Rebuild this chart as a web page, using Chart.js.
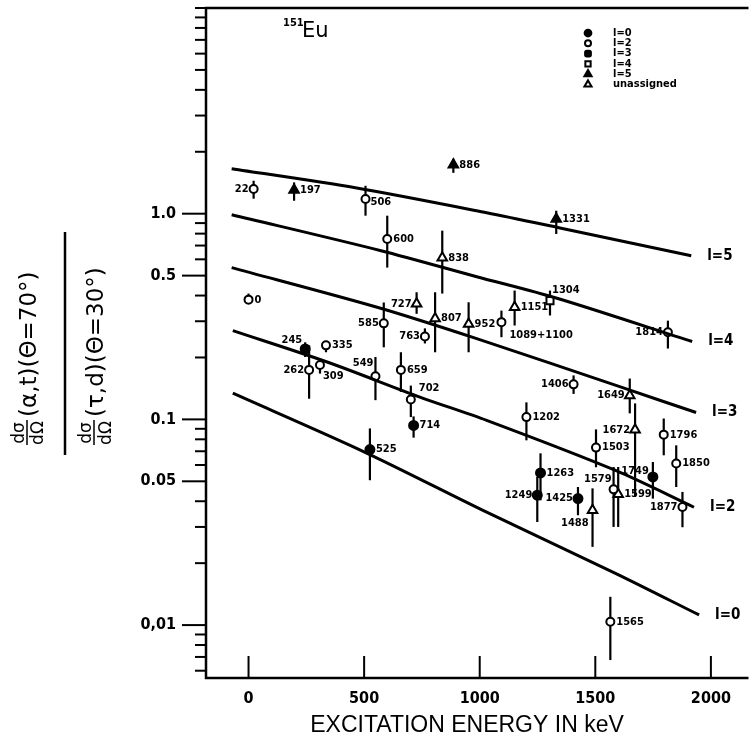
<!DOCTYPE html>
<html>
<head>
<meta charset="utf-8">
<script src="https://cdn.jsdelivr.net/npm/chart.js@4.4.0/dist/chart.umd.min.js"></script>
<style>
  html, body { margin: 0; padding: 0; background: #fff; }
</style>
</head>
<body>
<canvas id="c" width="754" height="743"></canvas>
<script>
// x: excitation energy (keV), y: cross-section ratio
const xTicks = [0, 500, 1000, 1500, 2000];
const yLabelTicks = [0.01, 0.05, 0.1, 0.5, 1.0];
const yTickText = { 1: '1.0', 0.5: '0.5', 0.1: '0.1', 0.05: '0.05', 0.01: '0,01' };

// theoretical curves, one per transferred l
const curveL5 = [[-73, 1.654], [462, 1.337], [1030, 1.011], [1342, 0.855], [1915, 0.625]];
const curveL4 = [[-73, 0.989], [573, 0.661], [987, 0.494], [1338, 0.387], [1919, 0.239]];
const curveL3 = [[-73, 0.547], [560, 0.350], [987, 0.247], [1615, 0.143], [1936, 0.108]];
const curveL2 = [[-68, 0.270], [346, 0.189], [744, 0.128], [1030, 0.0989], [1585, 0.0566], [1927, 0.0374]];
const curveL0 = [[-68, 0.134], [504, 0.0692], [1030, 0.0354], [1585, 0.0179], [1949, 0.0112]];

// measured levels: energy, ratio, error bar low / high
const l0Levels = [
  { e: 245, y: 0.220, lo: 0.201, hi: 0.237 },
  { e: 525, y: 0.0713, lo: 0.0506, hi: 0.0904 },
  { e: 714, y: 0.0935, lo: 0.0815, hi: 0.1034 },
  { e: 1249, y: 0.0428, lo: 0.0317, hi: 0.0525 },
  { e: 1263, y: 0.0549, lo: 0.0404, hi: 0.0684 },
  { e: 1425, y: 0.0412, lo: 0.0342, hi: 0.0469 },
  { e: 1749, y: 0.0525, lo: 0.0412, hi: 0.0621 }
];
const l2Levels = [
  { e: 0, y: 0.382, lo: 0.366, hi: 0.409 },
  { e: 22, y: 1.318, lo: 1.183, hi: 1.446 },
  { e: 262, y: 0.174, lo: 0.126, hi: 0.229 },
  { e: 309, y: 0.184, lo: 0.167, hi: 0.193 },
  { e: 335, y: 0.229, lo: 0.212, hi: 0.237 },
  { e: 506, y: 1.179, lo: 0.978, hi: 1.367 },
  { e: 549, y: 0.162, lo: 0.124, hi: 0.201 },
  { e: 585, y: 0.293, lo: 0.224, hi: 0.370 },
  { e: 600, y: 0.754, lo: 0.547, hi: 0.978 },
  { e: 659, y: 0.174, lo: 0.136, hi: 0.212 },
  { e: 702, y: 0.125, lo: 0.1026, hi: 0.146 },
  { e: 763, y: 0.253, lo: 0.234, hi: 0.277 },
  { e: 1094, y: 0.297, lo: 0.251, hi: 0.338, label: '1089+1100' },
  { e: 1202, y: 0.1026, lo: 0.0791, hi: 0.121 },
  { e: 1406, y: 0.148, lo: 0.133, hi: 0.1636 },
  { e: 1503, y: 0.0729, lo: 0.0585, hi: 0.0894 },
  { e: 1565, y: 0.01038, lo: 0.00676, hi: 0.01372 },
  { e: 1579, y: 0.0457, lo: 0.030, hi: 0.0587 },
  { e: 1796, y: 0.0843, lo: 0.0669, hi: 0.101 },
  { e: 1814, y: 0.265, lo: 0.221, hi: 0.302 },
  { e: 1850, y: 0.0610, lo: 0.0469, hi: 0.0748 },
  { e: 1877, y: 0.0375, lo: 0.0299, hi: 0.0444 }
];
const l3Levels = [];
const l4Levels = [
  { e: 1304, y: 0.378, lo: 0.320, hi: 0.423 }
];
const l5Levels = [
  { e: 197, y: 1.303, lo: 1.156, hi: 1.419 },
  { e: 886, y: 1.729, lo: 1.58, hi: 1.849 },
  { e: 1331, y: 0.942, lo: 0.797, hi: 1.034 }
];
const unassignedLevels = [
  { e: 727, y: 0.365, lo: 0.326, hi: 0.415 },
  { e: 807, y: 0.309, lo: 0.212, hi: 0.415 },
  { e: 838, y: 0.610, lo: 0.409, hi: 0.827 },
  { e: 952, y: 0.291, lo: 0.212, hi: 0.371 },
  { e: 1151, y: 0.351, lo: 0.286, hi: 0.423 },
  { e: 1488, y: 0.0362, lo: 0.024, hi: 0.0462 },
  { e: 1599, y: 0.0432, lo: 0.030, hi: 0.0587 },
  { e: 1649, y: 0.1307, lo: 0.107, hi: 0.158 },
  { e: 1672, y: 0.0891, lo: 0.042, hi: 0.1196 }
];

// where each level label sits next to its marker: [dx, dy, align]
const labelPlace = {
  '22': [-5, 0, 'right'], '262': [-5, 0, 'right'], '585': [-5, 0, 'right'],
  '727': [-5, 0, 'right'], '763': [-5, 0, 'right'], '1814': [-5, 0, 'right'],
  '1406': [-5, 0, 'right'], '1649': [-5, 0, 'right'], '1672': [-5, 0, 'right'],
  '1249': [-5, 0, 'right'], '1425': [-5, 0, 'right'], '1877': [-5, 0, 'right'],
  '245': [-3, -9, 'right'], '549': [-2, -13, 'right'], '1579': [-2, -10, 'right'],
  '1749': [-4, -6, 'right'], '1488': [-4, 13, 'right'],
  '702': [8, -11, 'left'], '1304': [2, -10, 'left'], '309': [3, 11, 'left'],
  '1089+1100': [8, 13, 'left'], '506': [5, 3, 'left']
};

const groups = [
  { name: 'l=0', levels: l0Levels, style: 'circle', fill: '#000', r: 4.5 },
  { name: 'l=2', levels: l2Levels, style: 'circle', fill: '#fff', r: 4 },
  { name: 'l=3', levels: l3Levels, style: 'rectRounded', fill: '#000', r: 4.5 },
  { name: 'l=4', levels: l4Levels, style: 'rect', fill: '#fff', r: 5 },
  { name: 'l=5', levels: l5Levels, style: 'triangle', fill: '#000', r: 5.5 },
  { name: 'unassigned', levels: unassignedLevels, style: 'triangle', fill: '#fff', r: 5.5 }
];

const curves = [
  { name: 'l=5', pts: curveL5 }, { name: 'l=4', pts: curveL4 }, { name: 'l=3', pts: curveL3 },
  { name: 'l=2', pts: curveL2 }, { name: 'l=0', pts: curveL0 }
];

const condensed = '"DejaVu Sans Condensed", "Liberation Sans Narrow", sans-serif';

function drawFrac(ctx, vTop, vBot, rest, vRest) {
  ctx.font = '17px "DejaVu Sans", sans-serif';
  ctx.textAlign = 'center';
  ctx.fillText('dσ', 13, vTop);
  ctx.fillText('dΩ', 13, vBot);
  ctx.lineWidth = 1.5;
  ctx.beginPath(); ctx.moveTo(1, vTop + 3); ctx.lineTo(26, vTop + 3); ctx.stroke();
  ctx.font = '23px "DejaVu Sans", sans-serif';
  ctx.textAlign = 'left';
  ctx.fillText(rest, 29, vRest, 168);
}

const decorations = {
  id: 'decorations',
  beforeDatasetsDraw(chart) {
    const { ctx, scales: { x, y } } = chart;
    ctx.save();
    ctx.strokeStyle = '#000';
    ctx.lineWidth = 2.2;
    groups.forEach(g => g.levels.forEach(p => {
      const px = x.getPixelForValue(p.e);
      ctx.beginPath();
      ctx.moveTo(px, y.getPixelForValue(p.hi));
      ctx.lineTo(px, y.getPixelForValue(p.lo));
      ctx.stroke();
    }));
    ctx.restore();
  },
  afterDraw(chart) {
    const { ctx, chartArea: a, scales: { x, y } } = chart;
    ctx.save();
    ctx.strokeStyle = '#000';
    ctx.fillStyle = '#000';

    // frame
    ctx.lineWidth = 2.5;
    ctx.beginPath();
    ctx.moveTo(a.right + 2, a.top); ctx.lineTo(a.left, a.top);
    ctx.lineTo(a.left, a.bottom); ctx.lineTo(a.right + 2, a.bottom);
    ctx.stroke();

    // y ticks (outward), long ones where labelled
    ctx.lineWidth = 2;
    for (let k = -3; k <= 1; k++) {
      for (let m = 1; m <= 9; m++) {
        const v = m * Math.pow(10, k);
        if (v < y.min || v > y.max) continue;
        const py = y.getPixelForValue(v);
        const long = yLabelTicks.some(t => Math.abs(t - v) / t < 1e-6);
        ctx.beginPath(); ctx.moveTo(a.left - (long ? 24 : 11), py); ctx.lineTo(a.left, py); ctx.stroke();
      }
    }
    // x ticks (inward)
    xTicks.forEach(t => {
      const px = x.getPixelForValue(t);
      ctx.beginPath(); ctx.moveTo(px, a.bottom); ctx.lineTo(px, a.bottom - 22); ctx.stroke();
    });

    // level labels
    ctx.font = 'bold 11px ' + condensed;
    ctx.textBaseline = 'middle';
    groups.forEach(g => g.levels.forEach(p => {
      const txt = p.label || String(p.e);
      const pl = labelPlace[txt] || [6, 0, 'left'];
      ctx.textAlign = pl[2];
      ctx.fillText(txt, x.getPixelForValue(p.e) + pl[0], y.getPixelForValue(p.y) + pl[1]);
    }));

    // curve names at the right end of each curve
    ctx.font = 'bold 15px ' + condensed;
    ctx.textAlign = 'left';
    curves.forEach(c => {
      const last = c.pts[c.pts.length - 1];
      ctx.fillText(c.name, x.getPixelForValue(last[0]) + 16, y.getPixelForValue(last[1]));
    });

    // legend
    const lx = 588, ly = 33;
    groups.forEach((g, i) => {
      const yy = ly + i * 10.3;
      ctx.fillStyle = g.fill;
      ctx.strokeStyle = '#000';
      ctx.lineWidth = 2;
      Chart.helpers.drawPoint(ctx, { pointStyle: g.style, radius: g.r * 0.75, rotation: 0, borderWidth: 2 }, lx, yy);
      ctx.fillStyle = '#000';
      ctx.font = 'bold 11px ' + condensed;
      ctx.textAlign = 'left';
      ctx.fillText(g.name, lx + 25, yy);
    });

    // nucleus
    ctx.textBaseline = 'alphabetic';
    ctx.font = 'bold 11px ' + condensed;
    ctx.fillText('151', 283, 26);
    ctx.font = '21px "DejaVu Sans", sans-serif';
    ctx.fillText('Eu', 302, 37);

    // x title
    ctx.textAlign = 'center';
    ctx.font = '23px "Liberation Sans", sans-serif';
    ctx.fillText('EXCITATION ENERGY IN keV', 467, 732, 314);

    // y title: ratio of two cross sections, rotated
    ctx.translate(0, 446);
    ctx.rotate(-Math.PI / 2);
    drawFrac(ctx, 24, 43, '(α,t)(Θ=70°)', 36);
    drawFrac(ctx, 91, 111, '(τ,d)(Θ=30°)', 103);
    ctx.lineWidth = 2.5;
    ctx.beginPath(); ctx.moveTo(-9, 65); ctx.lineTo(214, 65); ctx.stroke();
    ctx.restore();
  }
};

const datasets = [];
curves.forEach(c => datasets.push({
  label: c.name,
  data: c.pts.map(p => ({ x: p[0], y: p[1] })),
  showLine: true,
  borderColor: '#000',
  borderWidth: 3,
  pointRadius: 0,
  tension: 0.3
}));
groups.forEach(g => datasets.push({
  label: g.name,
  data: g.levels.map(p => ({ x: p.e, y: p.y })),
  pointStyle: g.style,
  pointRadius: g.r,
  pointBorderWidth: 2,
  pointBorderColor: '#000',
  pointBackgroundColor: g.fill,
  showLine: false
}));

new Chart(document.getElementById('c'), {
  type: 'scatter',
  data: { datasets },
  options: {
    responsive: false,
    animation: false,
    devicePixelRatio: 1,
    layout: { padding: { left: 0, right: 1, top: 8, bottom: 0 } },
    plugins: { legend: { display: false }, tooltip: { enabled: false } },
    scales: {
      x: {
        type: 'linear', min: -184, max: 2154,
        grid: { display: false, drawTicks: false },
        border: { display: false },
        afterBuildTicks: s => { s.ticks = xTicks.map(v => ({ value: v })); },
        afterFit: s => { s.height = 65; s.paddingLeft = 0; s.paddingRight = 0; },
        ticks: {
          color: '#000', padding: 11, maxRotation: 0,
          font: { family: condensed, size: 16, weight: 'bold' },
          callback: v => String(v)
        }
      },
      y: {
        type: 'logarithmic', min: 0.00553, max: 10,
        grid: { display: false, drawTicks: false },
        border: { display: false },
        afterBuildTicks: s => { s.ticks = yLabelTicks.map(v => ({ value: v })); },
        afterFit: s => { s.width = 206; s.paddingTop = 0; s.paddingBottom = 0; },
        ticks: {
          color: '#000', padding: 30, autoSkip: false,
          font: { family: condensed, size: 16, weight: 'bold' },
          callback: v => yTickText[v] || ''
        }
      }
    }
  },
  plugins: [decorations]
});
</script>
</body>
</html>
